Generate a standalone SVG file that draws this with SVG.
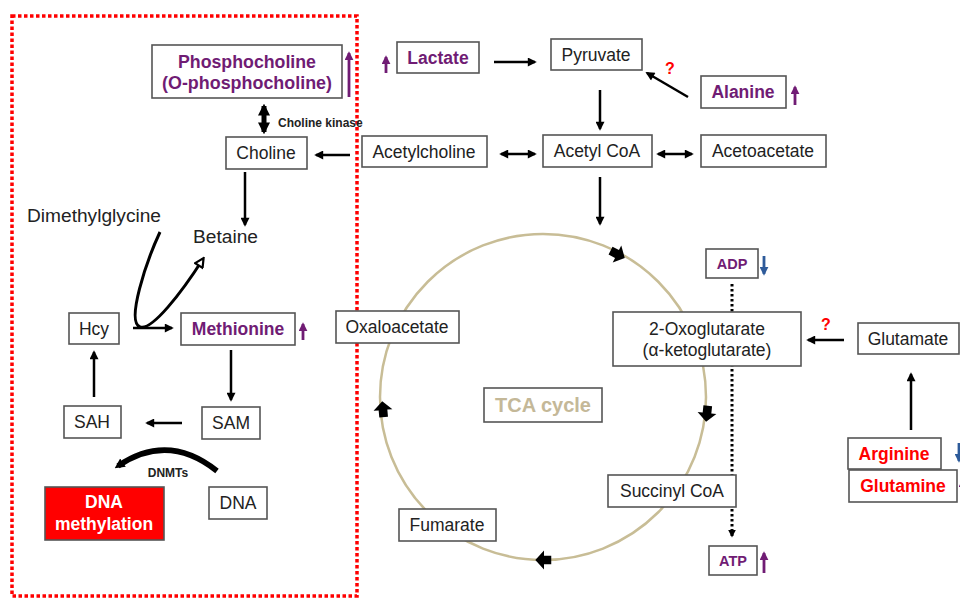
<svg xmlns="http://www.w3.org/2000/svg" width="960" height="598" viewBox="0 0 960 598">
<defs>
<style>
.box{fill:#fff;stroke:#555;stroke-width:1.6}
.t{font-family:"Liberation Sans",Arial,sans-serif;font-size:17.5px;fill:#222;text-anchor:middle}
.b{font-weight:bold}
.pu{fill:#701c74}
.rd{fill:#ff0000}
.ln{stroke:#000;stroke-width:2.5;fill:none}
.pl{stroke:#701c74;stroke-width:2.8;fill:none}
.bl{stroke:#2e5b9a;stroke-width:2.8;fill:none}
</style>
<marker id="ah" viewBox="0 0 10 10" refX="8" refY="5" markerWidth="10" markerHeight="9" markerUnits="userSpaceOnUse" orient="auto-start-reverse"><path d="M0,0 L10,5 L0,10 z" fill="#000"/></marker>
<marker id="ahT" viewBox="0 0 10 10" refX="8" refY="5" markerWidth="12" markerHeight="15" markerUnits="userSpaceOnUse" orient="auto-start-reverse"><path d="M0,0 L10,5 L0,10 z" fill="#000"/></marker>
<marker id="ahS" viewBox="0 0 10 10" refX="8" refY="5" markerWidth="8" markerHeight="8" markerUnits="userSpaceOnUse" orient="auto"><path d="M0,0 L10,5 L0,10 z" fill="#000"/></marker>
<marker id="ahO" viewBox="0 0 10 10" refX="8" refY="5" markerWidth="12" markerHeight="11" markerUnits="userSpaceOnUse" orient="auto"><path d="M1,1 L9,5 L1,9 z" fill="#fff" stroke="#000" stroke-width="2"/></marker>
<marker id="ahD" viewBox="0 0 10 10" refX="6" refY="5" markerWidth="10" markerHeight="13" markerUnits="userSpaceOnUse" orient="auto"><path d="M0,0 L10,5 L0,10 z" fill="#000"/></marker>
<marker id="ahP" viewBox="0 0 10 10" refX="8" refY="5" markerWidth="9" markerHeight="9" markerUnits="userSpaceOnUse" orient="auto"><path d="M0,0 L10,5 L0,10 z" fill="#701c74"/></marker>
<marker id="ahB" viewBox="0 0 10 10" refX="8" refY="5" markerWidth="9" markerHeight="9" markerUnits="userSpaceOnUse" orient="auto"><path d="M0,0 L10,5 L0,10 z" fill="#2e5b9a"/></marker>
<path id="blk" d="M0,-6 L6.5,0 L3,0 L3,5 L-3,5 L-3,0 L-6.5,0 Z" fill="#000"/>
</defs>
<rect width="960" height="598" fill="#fff"/>

<!-- red dotted region -->
<rect x="12" y="16" width="345" height="580" fill="none" stroke="#ff0000" stroke-width="3.5" stroke-dasharray="3.5 2.5"/>

<!-- TCA circle -->
<circle cx="543" cy="397" r="163" fill="none" stroke="#c8bd96" stroke-width="2.5"/>
<g id="cycle-arrows">
<use href="#blk" transform="translate(617,254) rotate(117) scale(1.45)"/>
<use href="#blk" transform="translate(707,413) rotate(186) scale(1.45)"/>
<use href="#blk" transform="translate(544,560) rotate(270) scale(1.45)"/>
<use href="#blk" transform="translate(383,410) rotate(-5) scale(1.45)"/>
</g>

<g id="connectors">
<line class="ln" x1="264" y1="106" x2="264" y2="132" style="stroke-width:5" marker-start="url(#ahT)" marker-end="url(#ahT)"/>
<line class="ln" x1="350" y1="155" x2="316" y2="155" marker-end="url(#ah)"/>
<line class="ln" x1="245" y1="172" x2="245" y2="225" marker-end="url(#ah)"/>
<path class="ln" d="M160,232 C146,262 126,322 140,327 C152,331 182,292 203,259" style="stroke-width:3" marker-end="url(#ahO)"/>
<line class="ln" x1="133" y1="328" x2="172" y2="328" marker-end="url(#ah)"/>
<line class="ln" x1="231" y1="350" x2="231" y2="400" marker-end="url(#ah)"/>
<line class="ln" x1="182" y1="423" x2="147" y2="423" marker-end="url(#ah)"/>
<line class="ln" x1="94" y1="397" x2="94" y2="352" marker-end="url(#ah)"/>
<path class="ln" d="M217,471 Q168,432 118,466" style="stroke-width:5.5" marker-end="url(#ahD)"/>
<line class="ln" x1="494" y1="62" x2="535" y2="62" marker-end="url(#ah)"/>
<line class="ln" x1="688" y1="97" x2="647" y2="73" marker-end="url(#ah)"/>
<line class="ln" x1="600" y1="90" x2="600" y2="129" marker-end="url(#ah)"/>
<line class="ln" x1="501" y1="154" x2="535" y2="154" marker-start="url(#ah)" marker-end="url(#ah)"/>
<line class="ln" x1="658" y1="154" x2="692" y2="154" marker-start="url(#ah)" marker-end="url(#ah)"/>
<line class="ln" x1="600" y1="177" x2="600" y2="224" marker-end="url(#ah)"/>
<line x1="732" y1="284" x2="732" y2="536" stroke="#000" stroke-width="3" stroke-dasharray="2.5 2.5" marker-end="url(#ahS)"/>
<line class="ln" x1="844" y1="340" x2="808" y2="340" marker-end="url(#ah)"/>
<line class="ln" x1="911" y1="430" x2="911" y2="374" marker-end="url(#ah)"/>
</g>

<g id="indicators">
<line class="pl" x1="349" y1="97" x2="349" y2="53" marker-end="url(#ahP)"/>
<line class="pl" x1="386" y1="73" x2="386" y2="57" marker-end="url(#ahP)"/>
<line class="pl" x1="795" y1="105" x2="795" y2="87" marker-end="url(#ahP)"/>
<line class="pl" x1="303" y1="340" x2="303" y2="324" marker-end="url(#ahP)"/>
<line class="pl" x1="764" y1="573" x2="764" y2="553" marker-end="url(#ahP)"/>
<line class="bl" x1="764" y1="256" x2="764" y2="274" marker-end="url(#ahB)"/>
<line class="bl" x1="959" y1="443" x2="959" y2="461" marker-end="url(#ahB)"/>
<line class="pl" x1="963" y1="498" x2="963" y2="480" marker-end="url(#ahP)"/>
<text class="t b rd" x="670" y="74" style="font-size:16px">?</text>
<text class="t b rd" x="826" y="330" style="font-size:16px">?</text>
</g>

<g id="phosphocholine"><rect class="box" x="152" y="45" width="190" height="53"/><text class="t b pu" x="247" y="68" textLength="138" lengthAdjust="spacingAndGlyphs">Phosphocholine</text><text class="t b pu" x="247" y="89" textLength="170" lengthAdjust="spacingAndGlyphs">(O-phosphocholine)</text></g>
<g id="choline-kinase"><text class="t b" x="278" y="127" style="font-size:12px;text-anchor:start">Choline kinase</text></g>
<g id="choline"><rect class="box" x="226" y="137" width="81" height="32"/><text class="t" x="266" y="159">Choline</text></g>
<g id="dimethylglycine"><text class="t" x="27" y="222" style="text-anchor:start" textLength="134" lengthAdjust="spacingAndGlyphs">Dimethylglycine</text></g>
<g id="betaine"><text class="t" x="193" y="243" style="text-anchor:start" textLength="65" lengthAdjust="spacingAndGlyphs">Betaine</text></g>
<g id="hcy"><rect class="box" x="69" y="313" width="50" height="31"/><text class="t" x="94" y="335">Hcy</text></g>
<g id="methionine"><rect class="box" x="181" y="313" width="114" height="32"/><text class="t b pu" x="238" y="335">Methionine</text></g>
<g id="sam"><rect class="box" x="202" y="407" width="58" height="32"/><text class="t" x="231" y="429">SAM</text></g>
<g id="sah"><rect class="box" x="64" y="406" width="57" height="32"/><text class="t" x="92" y="428">SAH</text></g>
<g id="dnmts"><text class="t b" x="168" y="477" style="font-size:12px">DNMTs</text></g>
<g id="dna-methylation"><rect x="45" y="487" width="119" height="53" fill="#ff0000" stroke="#555" stroke-width="1.6"/><text class="t b" x="104" y="508" style="fill:#fff">DNA</text><text class="t b" x="104" y="530" style="fill:#fff">methylation</text></g>
<g id="dna"><rect class="box" x="209" y="487" width="58" height="32"/><text class="t" x="238" y="509">DNA</text></g>

<g id="lactate"><rect class="box" x="397" y="42" width="82" height="31"/><text class="t b pu" x="438" y="64">Lactate</text></g>
<g id="pyruvate"><rect class="box" x="551" y="39" width="91" height="31"/><text class="t" x="596" y="61">Pyruvate</text></g>
<g id="alanine"><rect class="box" x="701" y="76" width="85" height="32"/><text class="t b pu" x="743" y="98">Alanine</text></g>
<g id="acetylcholine"><rect class="box" x="362" y="136" width="125" height="31"/><text class="t" x="424" y="158">Acetylcholine</text></g>
<g id="acetyl-coa"><rect class="box" x="543" y="135" width="109" height="32"/><text class="t" x="597" y="157">Acetyl CoA</text></g>
<g id="acetoacetate"><rect class="box" x="701" y="135" width="125" height="32"/><text class="t" x="763" y="157">Acetoacetate</text></g>

<g id="oxaloacetate"><rect class="box" x="336" y="311" width="123" height="32"/><text class="t" x="397" y="333">Oxaloacetate</text></g>
<g id="tca"><rect class="box" x="484" y="388" width="118" height="34"/><text class="t b" x="543" y="412" style="font-size:20px;fill:#c4b898">TCA cycle</text></g>
<g id="adp"><rect class="box" x="706" y="249" width="52" height="29"/><text class="t b pu" x="732" y="269" style="font-size:14.5px">ADP</text></g>
<g id="oxoglutarate"><rect class="box" x="613" y="312" width="188" height="54"/><text class="t" x="707" y="335">2-Oxoglutarate</text><text class="t" x="707" y="356">(α-ketoglutarate)</text></g>
<g id="glutamate"><rect class="box" x="858" y="323" width="101" height="31"/><text class="t" x="908" y="345">Glutamate</text></g>
<g id="succinyl-coa"><rect class="box" x="608" y="475" width="128" height="32"/><text class="t" x="672" y="497">Succinyl CoA</text></g>
<g id="fumarate"><rect class="box" x="399" y="509" width="97" height="32"/><text class="t" x="447" y="531">Fumarate</text></g>
<g id="atp"><rect class="box" x="709" y="546" width="48" height="29"/><text class="t b pu" x="733" y="566" style="font-size:14.5px">ATP</text></g>
<g id="arginine"><rect class="box" x="848" y="438" width="93" height="31"/><text class="t b rd" x="894" y="460">Arginine</text></g>
<g id="glutamine"><rect class="box" x="849" y="470" width="108" height="32"/><text class="t b rd" x="903" y="492">Glutamine</text></g>
</svg>
